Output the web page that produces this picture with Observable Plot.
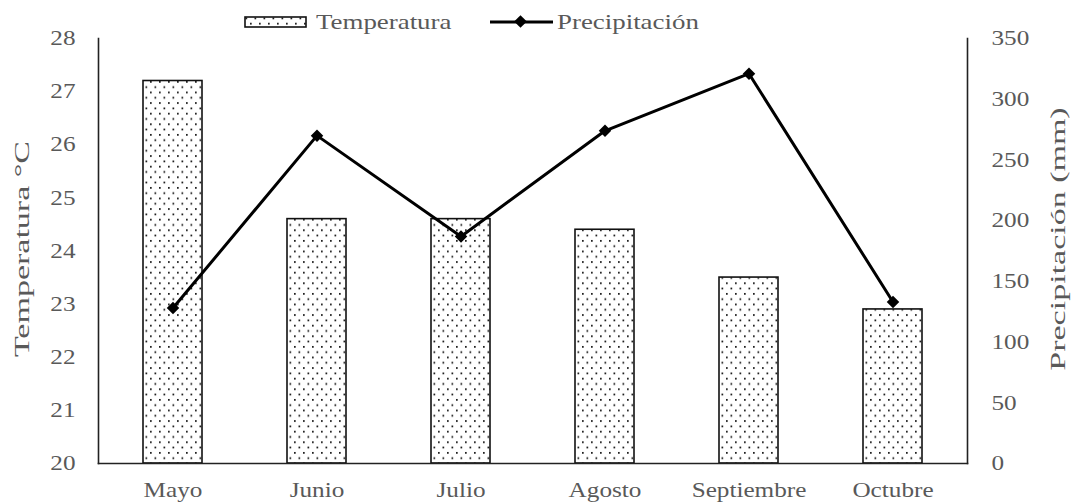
<!DOCTYPE html>
<html><head><meta charset="utf-8">
<script src="https://cdn.jsdelivr.net/npm/d3@7"></script>
<script src="https://cdn.jsdelivr.net/npm/@observablehq/plot@0.6"></script>
<style>
body{margin:0;background:#fff;}
#wrap{position:relative;width:1077px;height:502px;font-family:"Liberation Serif","Times New Roman",serif;}
#wrap svg text{font-family:"Liberation Serif","Times New Roman",serif;}
.lg{position:absolute;color:#595959;font-size:21px;line-height:1;transform-origin:left center;white-space:nowrap}
</style></head><body><div id="wrap"></div>
<script>
const months = ["Mayo","Junio","Julio","Agosto","Septiembre","Octubre"];
const temperatura = [27.2, 24.6, 24.6, 24.4, 23.5, 22.9];
const precipitacion = [128, 270, 187, 274, 321, 133];
const tempTicks = [20, 21, 22, 23, 24, 25, 26, 27, 28];
const precTicks = [0, 50, 100, 150, 200, 250, 300, 350];
const legendLabels = ["Temperatura", "Precipitación"];
const yTitleLeft = "Temperatura °C";
const yTitleRight = "Precipitación (mm)";

const tMin = 20, tMax = 28, pMax = 350;
const toT = p => tMin + p * (tMax - tMin) / pMax;
const toP = t => Math.round((t - tMin) * pMax / (tMax - tMin));
const data = months.map((m, i) => ({mes: m, temp: temperatura[i], prec: precipitacion[i]}));

const txt = "#595959";
const plot = Plot.plot({
  width: 1077, height: 502,
  marginLeft: 98, marginRight: 110, marginTop: 38, marginBottom: 39,
  style: {fontFamily: '"Liberation Serif", serif', fontSize: "21px", color: txt, background: "#fff"},
  x: {domain: months, paddingInner: 0.59, paddingOuter: 0.295, axis: null},
  y: {domain: [tMin, tMax], axis: null},
  marks: [
    Plot.barY(data, {x: "mes", y1: tMin, y2: "temp", fill: "url(#dots)", stroke: "#111", strokeWidth: 1.6}),
    Plot.frame({anchor: "left", stroke: "#222", strokeWidth: 1.6}),
    Plot.frame({anchor: "right", stroke: "#222", strokeWidth: 1.6}),
    Plot.frame({anchor: "bottom", stroke: "#222", strokeWidth: 1.6}),
    Plot.axisX({tickSize: 0, tickPadding: 19, label: null, fill: txt}),
    Plot.axisY(tempTicks, {anchor: "left", tickSize: 0, tickPadding: 23, tickFormat: d => String(d), label: null, fill: txt}),
    Plot.axisY(precTicks.map(toT), {anchor: "right", tickSize: 0, tickPadding: 24, tickFormat: toP, label: null, fill: txt}),
    Plot.text([yTitleLeft], {frameAnchor: "left", textAnchor: "middle", dx: -76, dy: -2, rotate: -90, fill: txt, fontSize: 21, className: "ttl"}),
    Plot.text([yTitleRight], {frameAnchor: "right", textAnchor: "middle", dx: 91, dy: -12, rotate: -90, fill: txt, fontSize: 21, className: "ttl"}),
    Plot.line(data, {x: "mes", y: d => toT(d.prec), stroke: "#000", strokeWidth: 3}),
    Plot.dot(data, {x: "mes", y: d => toT(d.prec), symbol: "square", r: 5, rotate: 45, fill: "#000"})
  ]
});

const ns = "http://www.w3.org/2000/svg";
function addPattern(svg, id) {
  const defs = document.createElementNS(ns, "defs");
  defs.innerHTML = `<pattern id="${id}" patternUnits="userSpaceOnUse" width="9" height="10.6">
    <rect width="9" height="10.6" fill="#fff"/>
    <rect x="1.5" y="1.5" width="1.7" height="1.7" fill="#111"/>
    <rect x="6" y="6.8" width="1.7" height="1.7" fill="#111"/></pattern>`;
  svg.insertBefore(defs, svg.firstChild);
}
addPattern(plot, "dots");
const wrap = document.getElementById("wrap");
wrap.appendChild(plot);

// legend
const lg = document.createElement("div");
lg.innerHTML = `
<svg style="position:absolute;left:244px;top:16px" width="64" height="13">
  <rect x="1" y="1" width="61" height="10" fill="url(#dots)" stroke="#111" stroke-width="1.6"/></svg>
<span class="lg" style="left:316px;top:12px">${legendLabels[0]}</span>
<svg style="position:absolute;left:489px;top:13px" width="66" height="20">
  <line x1="1" y1="9" x2="64" y2="9" stroke="#000" stroke-width="3"/>
  <rect x="27" y="4" width="9" height="9" transform="rotate(45 31.5 8.5)" fill="#000"/></svg>
<span class="lg" style="left:557px;top:12px">${legendLabels[1]}</span>`;
wrap.appendChild(lg);
lg.querySelectorAll(".lg").forEach(s => s.style.transform = "scaleX(1.28)");

// stretch text along its direction like the reference typeface
plot.querySelectorAll("text").forEach(t => {
  if (t.closest(".ttl") !== null) {
    const tr = t.getAttribute("transform") || "";
    t.setAttribute("transform", tr + " scale(1.62,1)");
  } else {
    const w = t.getComputedTextLength();
    t.setAttribute("textLength", w * 1.2);
    t.setAttribute("lengthAdjust", "spacingAndGlyphs");
  }
});
</script></body></html>
